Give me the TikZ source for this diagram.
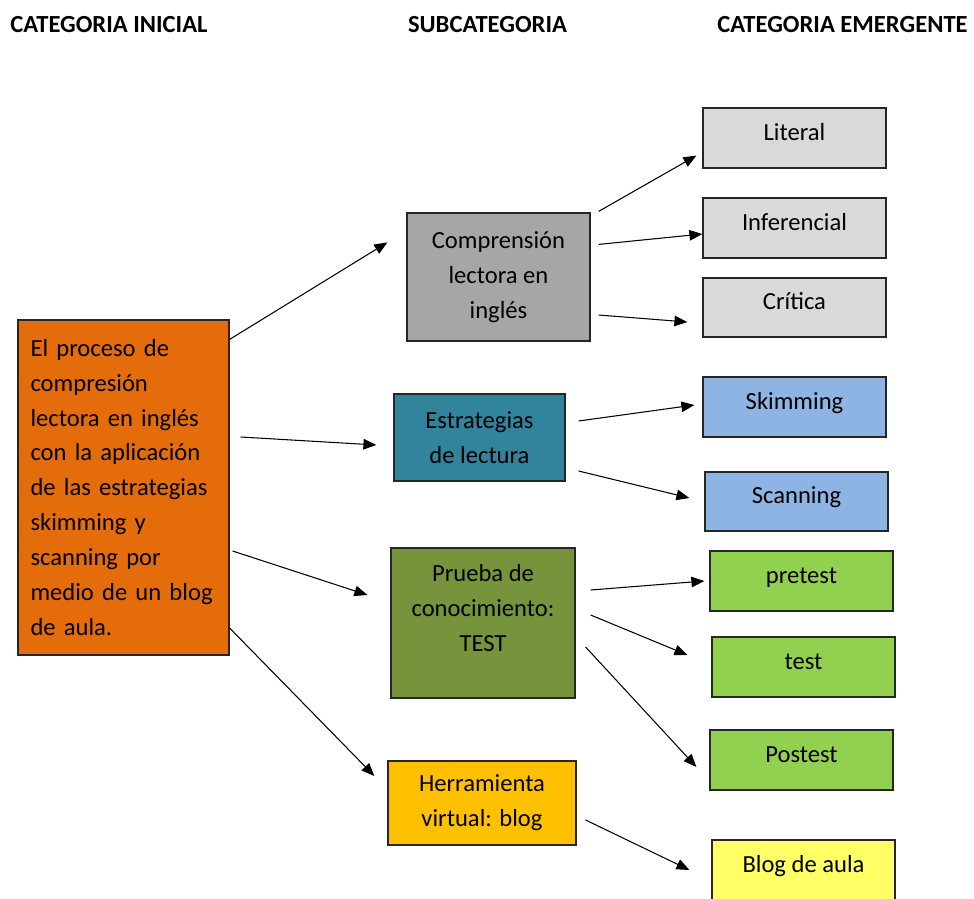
\documentclass[tikz,border=0pt]{standalone}
\usepackage{fontspec}
\setmainfont{Carlito}
\usetikzlibrary{arrows.meta,calc}
\definecolor{naranja}{HTML}{E46C0A}
\definecolor{gris}{HTML}{A6A6A6}
\definecolor{grisclaro}{HTML}{D9D9D9}
\definecolor{azulverde}{HTML}{31849B}
\definecolor{oliva}{HTML}{77933C}
\definecolor{dorado}{HTML}{FFC000}
\definecolor{celeste}{HTML}{8DB4E2}
\definecolor{verde}{HTML}{92D050}
\definecolor{amarillo}{HTML}{FFFF66}

\begin{document}
\begin{tikzpicture}[x=0.02cm, y=-0.02cm, font=\fontsize{14}{19.9}\selectfont,
  caja/.style = {draw=black!85, line width=0.7pt, align=center, inner sep=0pt},
  hoja/.style = {caja, minimum width=3.66cm, minimum height=1.2cm, text height=0.32cm, text depth=0.24cm},
  flecha/.style = {-{Triangle[length=0.26cm,width=0.21cm]}, line width=0.6pt},
  titulo/.style = {font=\fontsize{14}{17}\selectfont\bfseries, inner sep=0pt}]
\useasboundingbox (0,0) rectangle (974,899);
% titulos de columna
\node[titulo, anchor=west] (t1) at (10,25) {CATEGORIA INICIAL};
\node[titulo] (t2) at (487.5,25) {SUBCATEGORIA};
\node[titulo, anchor=east] (t3) at (968,25) {CATEGORIA EMERGENTE};
% categoria inicial
\node[caja, fill=naranja, align=left, inner xsep=0.25cm, text width=3.72cm, minimum height=6.7cm] (ini) at (123.5,487.5) {El proceso de\\ compresión\\ lectora en inglés\\ con la aplicación\\ de las estrategias\\ skimming y\\ scanning por\\ medio de un blog\\ de aula.};
% subcategorias
\node[caja, fill=gris, minimum width=3.66cm, minimum height=2.56cm] (comp) at (498.5,277) {Comprensión\\ lectora en\\ inglés};
\node[caja, fill=azulverde, minimum width=3.42cm, minimum height=1.74cm] (estr) at (479.5,437.5) {Estrategias\\ de lectura};
\node[caja, fill=oliva, minimum width=3.68cm, minimum height=3cm, text depth=0.6cm] (prueba) at (483,623) {Prueba de\\ conocimiento:\\ TEST};
\node[caja, fill=dorado, minimum width=3.76cm, minimum height=1.68cm] (herr) at (482,803) {Herramienta\\ virtual: blog};
% categorias emergentes
\node[hoja, fill=grisclaro] (lit) at (794.5,138) {Literal};
\node[hoja, fill=grisclaro] (inf) at (794.5,228) {Inferencial};
\node[hoja, fill=grisclaro, minimum height=1.18cm] (cri) at (794.5,307.5) {Crítica};
\node[hoja, fill=celeste] (ski) at (794.5,407) {Skimming};
\node[hoja, fill=celeste, minimum height=1.18cm] (sca) at (796.5,501.5) {Scanning};
\node[hoja, fill=verde] (pre) at (801.5,581) {pretest};
\node[hoja, fill=verde] (tes) at (803.5,667) {test};
\node[hoja, fill=verde] (pos) at (801.5,760) {Postest};
\node[hoja, fill=amarillo] (blo) at (803.5,870) {Blog de aula};
% flechas
\draw[flecha] ($(ini.north east)+(0,20)$) -- ($(comp.north west)+(-19,30)$);
\draw[flecha] ($(ini.east)+(11,-50.5)$) -- ($(estr.west)+(-17,7.5)$);
\draw[flecha] ($(ini.east)+(3,63.5)$) -- ($(prueba.west)+(-23,-28)$);
\draw[flecha] ($(ini.east)+(0,140.5)$) -- ($(herr.west)+(-13,-27)$);
\draw[flecha] ($(comp.north east)+(8,-1)$) -- ($(lit.south west)+(-6,-13)$);
\draw[flecha] ($(comp.north east)+(8,32)$) -- ($(inf.west)+(0,6)$);
\draw[flecha] ($(comp.east)+(8,38)$) -- ($(cri.west)+(-15,14.5)$);
\draw[flecha] ($(estr.east)+(13,-16.5)$) -- ($(ski.west)+(-8,-2)$);
\draw[flecha] ($(estr.east)+(13,33.5)$) -- ($(sca.west)+(-15,-3.5)$);
\draw[flecha] ($(prueba.east)+(15,-33)$) -- ($(pre.west)+(-5,0)$);
\draw[flecha] ($(prueba.east)+(15,-8)$) -- ($(tes.west)+(-24,-12)$);
\draw[flecha] ($(prueba.east)+(10,24)$) -- ($(pos.west)+(-13,7)$);
\draw[flecha] ($(herr.east)+(9,17)$) -- ($(blo.west)+(-22,0)$);
\end{tikzpicture}
\end{document}
